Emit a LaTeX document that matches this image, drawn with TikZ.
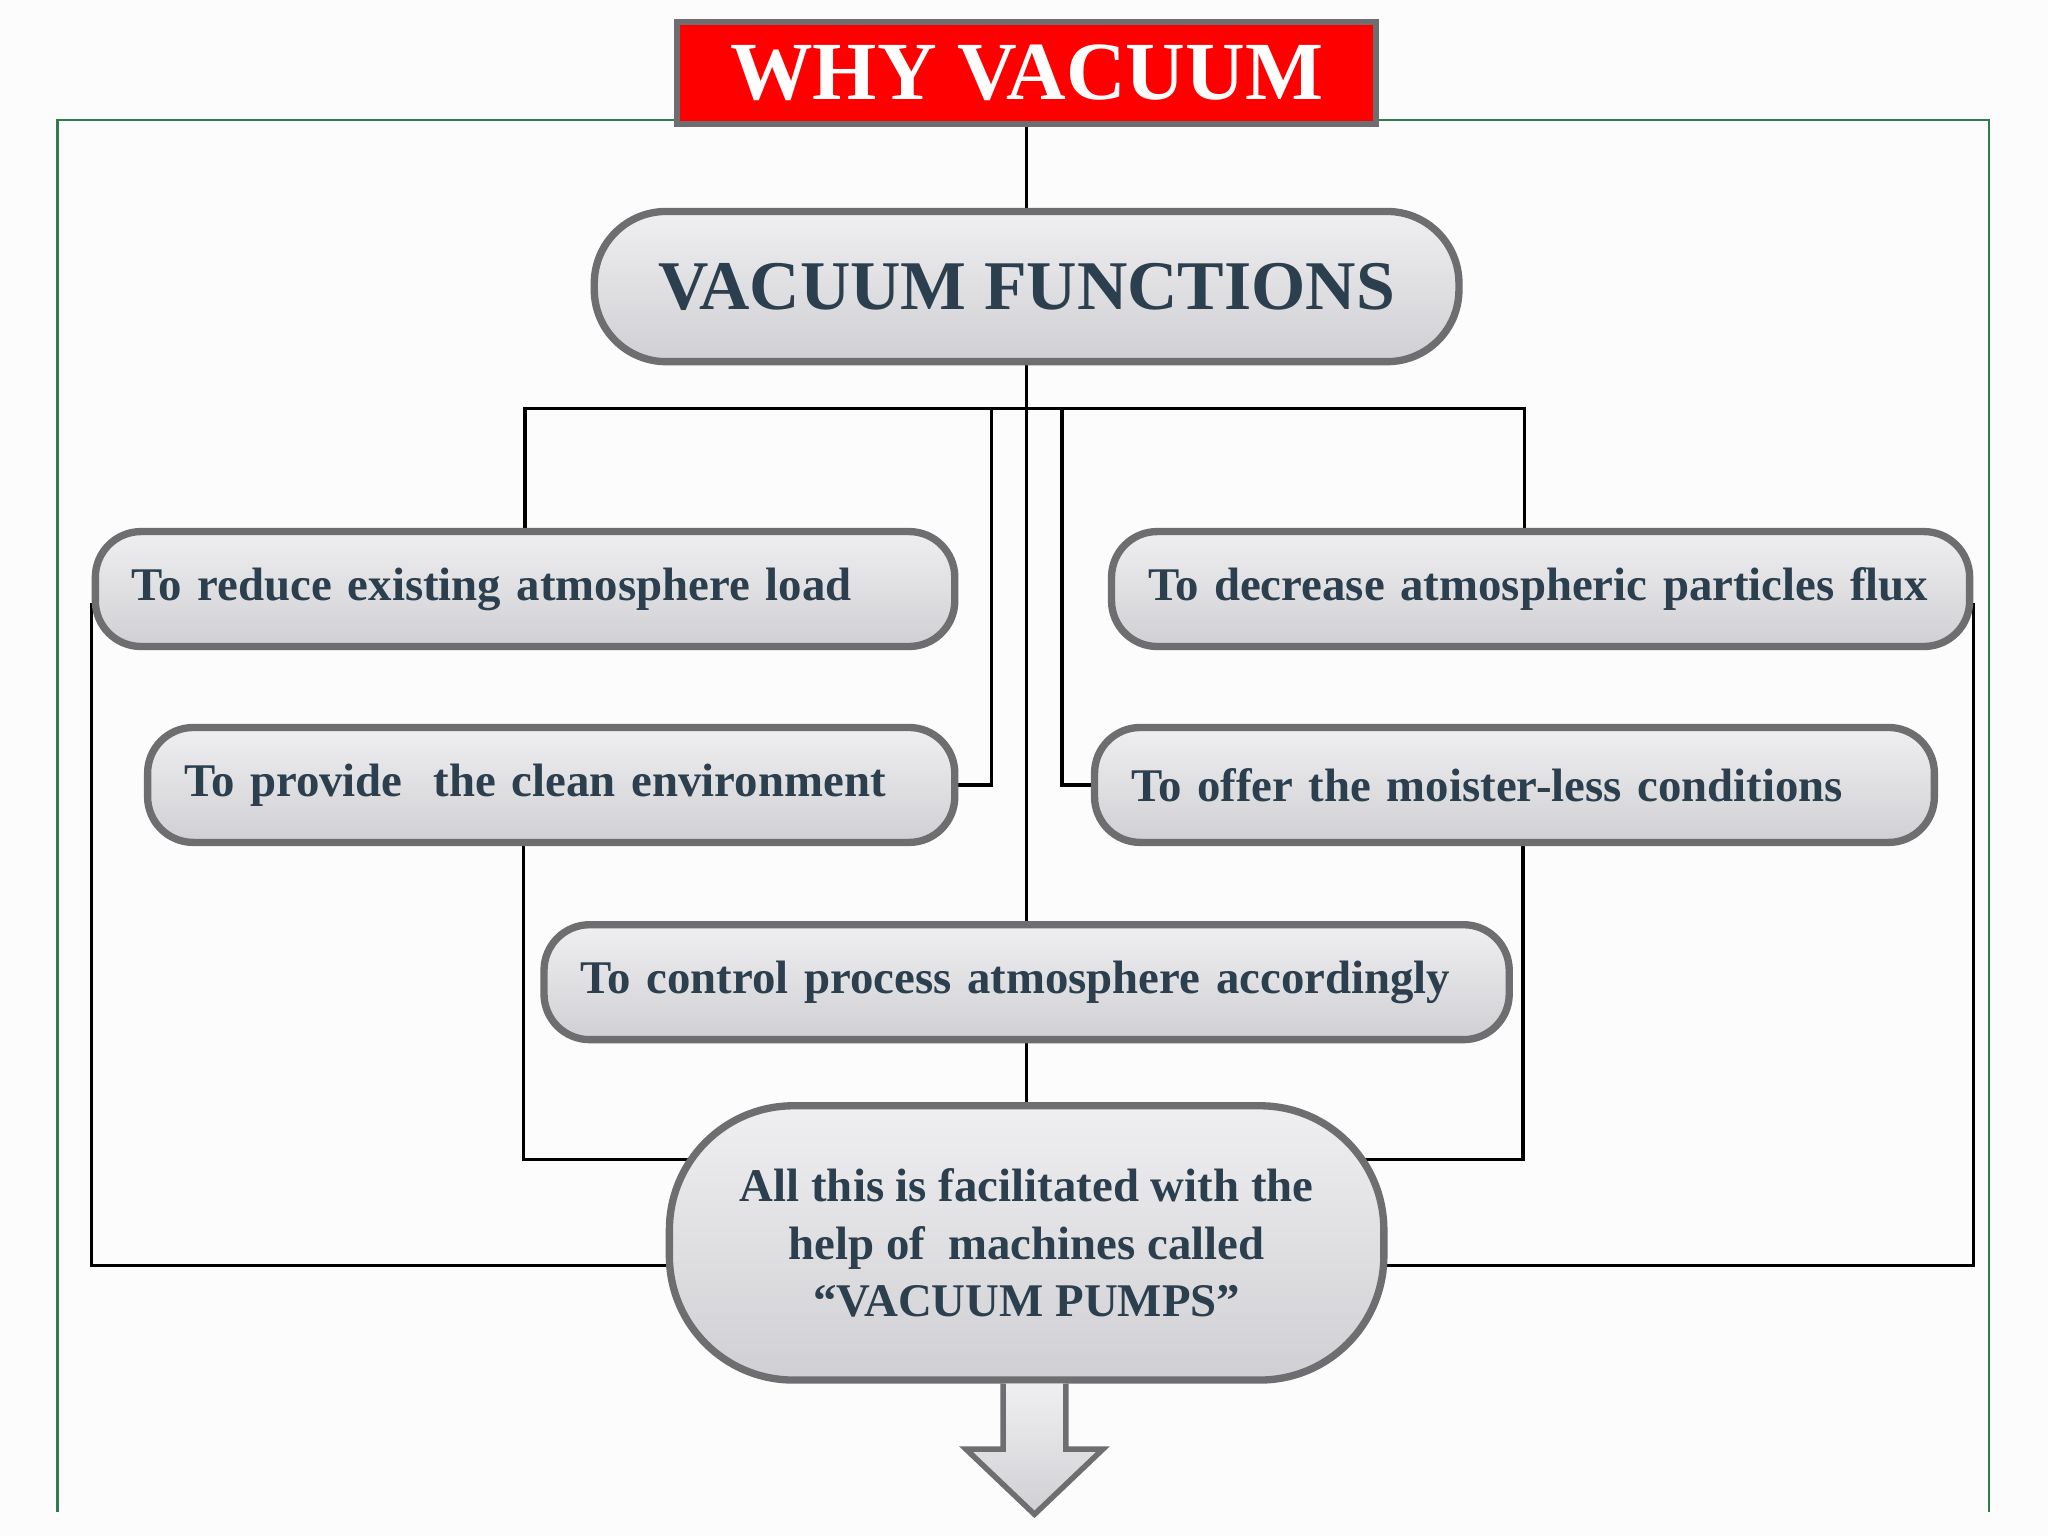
\documentclass[tikz,border=0pt]{standalone}
\usepackage{fontspec}
\setmainfont{Liberation Serif}
\usetikzlibrary{positioning, calc, backgrounds}
\definecolor{rojoTitulo}{HTML}{FF0000}
\definecolor{grisBorde}{HTML}{6E6E70}
\definecolor{verdeMarco}{HTML}{2E7D4F}
\definecolor{pizarra}{HTML}{2B3F4E}
\definecolor{grisClaro}{HTML}{EFEFF1}
\definecolor{grisOscuro}{HTML}{D0D0D4}
\definecolor{fondoHoja}{HTML}{FCFCFD}
\colorlet{colTexto}{pizarra}
\colorlet{colBorde}{grisBorde}
\colorlet{colMarco}{verdeMarco}
\DeclareRobustCommand\espaciado{\spaceskip=0.2em\relax}
\tikzset{
  cajaBase/.style={
    draw=colBorde, line width=1.6pt, rounded corners=3.5mm,
    top color=grisClaro, bottom color=grisOscuro,
    text=colTexto, inner ysep=0pt
  },
  cajaTitulo/.style={
    draw=colBorde, line width=1.2pt, fill=rojoTitulo, text=white,
    minimum width=5.35cm, minimum height=0.78cm, inner sep=0pt,
    font=\fontsize{18}{20}\selectfont\bfseries
  },
  cajaFunciones/.style={cajaBase, rounded corners=5.5mm,
    minimum width=6.62cm, minimum height=1.15cm,
    font=\fontsize{15.2}{18}\selectfont\bfseries},
  cajaMotivo/.style={cajaBase, minimum height=0.88cm, align=left,
    inner xsep=0.28cm,
    font=\fontsize{10.2}{12.5}\selectfont\bfseries\espaciado},
  cajaBombas/.style={cajaBase, rounded corners=9.5mm,
    minimum width=5.47cm, minimum height=2.1cm, align=center,
    font=\fontsize{10.2}{12.5}\selectfont\bfseries},
  linea/.style={draw=black, line width=0.7pt},
  marco/.style={draw=colMarco, line width=0.5pt},
  flechaGruesa/.style={draw=colBorde, line width=1.2pt,
    top color=grisClaro, bottom color=grisOscuro, line join=miter},
}
\begin{document}
\begin{tikzpicture}
  \path[use as bounding box] (0,0) rectangle (15.68,11.76);
  \begin{scope}[on background layer]
    \fill[fondoHoja] (0,0) rectangle (15.68,11.76);
  \end{scope}
  \draw[marco] (0.44,0.18) |- (15.23,10.84) -- (15.23,0.18);

  \node[cajaTitulo] (titulo) at (7.86,11.2) {WHY VACUUM};
  \node[cajaFunciones, below=0.62cm of titulo] (funciones) {VACUUM FUNCTIONS};
  \node[cajaMotivo, text width=6.02cm] (reducir) at (4.02,7.25)
    {To reduce existing atmosphere load};
  \node[cajaMotivo, text width=6.01cm] (disminuir) at (11.795,7.25)
    {To decrease atmospheric particles flux};
  \node[cajaMotivo, text width=5.62cm] (limpio) at (4.22,5.75)
    {To provide\ \ the clean environment};
  \node[cajaMotivo, text width=5.87cm] (seco) at (11.595,5.75)
    {To offer the moister-less conditions};
  \node[cajaMotivo, text width=6.83cm] (controlar) at (7.86,4.24)
    {To control process atmosphere accordingly};
  \node[cajaBombas, below=0.45cm of controlar] (bombas)
    {All this is facilitated with the\\help of\ \ machines called\\``VACUUM PUMPS''};

  \coordinate (bus) at ($(funciones.south)+(0,-0.33)$);

  \begin{scope}[on background layer]
    \draw[linea] (titulo) -- (funciones);
    \draw[linea] (funciones) -- (controlar);
    \draw[linea] (reducir.north) |- (bus) -| ([xshift=-1.25mm]disminuir.north);
    \draw[linea] ([xshift=-2.7mm]bus) |- (limpio.east);
    \draw[linea] ([xshift=2.7mm]bus) |- (seco.west);
    \draw[linea] (controlar) -- (bombas);
    \draw[linea] ([xshift=-2.1mm]limpio.south) |- ([yshift=6.4mm]bombas.center);
    \draw[linea] ([xshift=0.65mm]seco.south) |- ([yshift=6.4mm]bombas.center);
    \draw[linea] ([yshift=-1.1mm]reducir.west) |- ([yshift=-1.7mm]bombas.center);
    \draw[linea] ([yshift=-1.1mm]disminuir.east) |- ([yshift=-1.7mm]bombas.center);
  \end{scope}

  % flecha de salida
  \draw[flechaGruesa] ($(bombas.south)+(-0.18,0)$) -- ++(0,-0.5) -- ++(-0.285,0)
    -- ($(bombas.south)+(0.06,-1.0)$) -- ($(bombas.south)+(0.585,-0.5)$)
    -- ++(-0.285,0) -- ($(bombas.south)+(0.3,0)$);
\end{tikzpicture}
\end{document}
